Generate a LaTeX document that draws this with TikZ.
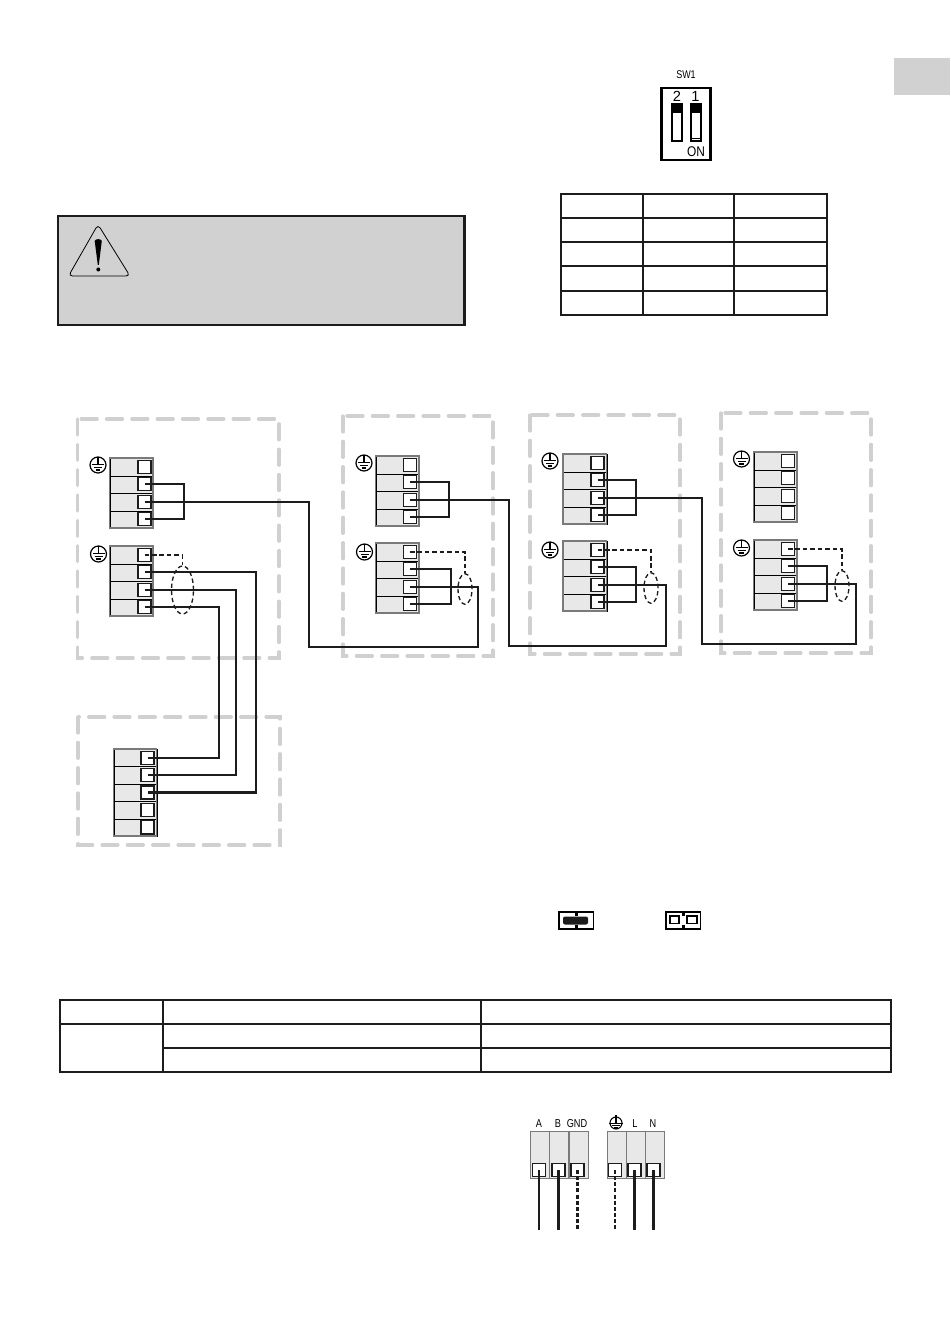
\documentclass[tikz,border=0pt]{standalone}
\usepackage{fontspec}
\setmainfont{Liberation Sans}
\usetikzlibrary{shapes.geometric}
\definecolor{panelgrey}{HTML}{D1D1D1}
\definecolor{rowgrey}{HTML}{E8E8E8}
\definecolor{blockedge}{HTML}{7A7A7A}
\definecolor{framegrey}{HTML}{D0D0D0}
\definecolor{wireblack}{HTML}{1C1C1C}
\tikzset{
  px/.style={x=0.75pt,y=-0.75pt},
  frame/.style={draw=framegrey,line width=2.4pt,dash pattern=on 12pt off 7pt,line cap=round},
  wire/.style={draw=wireblack,line width=1.6pt},
  dwire/.style={draw=wireblack,line width=1.2pt,dash pattern=on 3.4pt off 2.2pt},
  bwire/.style={draw=wireblack,line width=1.6pt},
  bdwire/.style={draw=wireblack,line width=1.6pt,dash pattern=on 3pt off 1.6pt},
  rowcell/.style={rectangle,fill=rowgrey,draw=black,line width=0.7pt,anchor=north west,inner sep=0pt},
  termsq/.style={rectangle,draw=wireblack,fill=white,line width=1pt,minimum size=9.8pt,inner sep=0pt},
  cable/.style={ellipse,draw=wireblack,line width=1pt,dash pattern=on 3.2pt off 2.2pt,inner sep=0pt},
  tablegrid/.style={draw=wireblack,line width=1.4pt},
  lab/.style={inner sep=0pt,font=\fontsize{8.6}{9}\selectfont},
  earthpic/.pic={
    \draw[line width=0.9pt,fill=white] (0,0) circle[radius=8];
    \draw[line width=0.8pt] (0,-8) -- (0,-0.5);
    \draw[line width=0.8pt] (-6,-0.5) -- (6,-0.5) (-4,2.3) -- (4,2.3) (-2.2,5) -- (2.2,5);
  },
  smallearth/.pic={
    \draw[line width=0.8pt] (0,0) circle[radius=6];
    \draw[line width=0.8pt] (0,-8) -- (0,0.5);
    \draw[line width=0.8pt] (-7,0.5) -- (7,0.5) (-4,2.8) -- (4,2.8) (-2,5) -- (2,5);
  }
}
% name, left, top, width, row height, rows, square centre x
\newcommand{\tblock}[7]{%
  \foreach \r in {1,...,#6}{%
    \pgfmathsetmacro{\ry}{#3+(\r-1)*#5}%
    \pgfmathsetmacro{\rc}{#3+(\r-0.5)*#5}%
    \node[rowcell,minimum width=#4*0.75pt,minimum height=#5*0.75pt] (#1-r\r) at (#2,\ry) {};%
    \node[termsq] (#1-\r) at (#7,\rc) {};%
  }%
  \pgfmathsetmacro{\rb}{#3+#6*#5}%
  \pgfmathsetmacro{\rr}{#2+#4}%
  \draw[blockedge,line width=1pt] (#2,#3) rectangle (\rr,\rb);%
}
% left, right, mid: outline of a two-bay jumper with a notched waist
\newcommand{\jumper}[1]{%
  \draw[black,line width=0.9pt,shift={(#1,0)}] (0,912) -- (16.5,912) -- (16.5,915) -- (18,915) -- (18,912) -- (34.5,912) -- (34.5,929) -- (18,929) -- (18,926) -- (16.5,926) -- (16.5,929) -- (0,929) -- cycle;%
}
\begin{document}
\begin{tikzpicture}[px]
\useasboundingbox (0,0) rectangle (950,1344);
% side tab
\fill[panelgrey] (894,58) rectangle (950,95);
% DIP switch
\node[lab,font=\fontsize{8.4}{9}\selectfont] (swlab) at (686,75) {\scalebox{0.8}[1]{SW1}};
\node[rectangle,draw=black,line width=2.2pt,minimum width=36.5pt,minimum height=54pt,inner sep=0pt] (swbody) at (686,124) {};
\node[lab,font=\fontsize{11}{12}\selectfont] (sw2) at (677,96) {2};
\node[lab,font=\fontsize{11}{12}\selectfont] (sw1) at (695.5,96) {1};
\node[lab,font=\fontsize{10.5}{11}\selectfont] (swon) at (696,151.5) {\scalebox{0.85}[1]{ON}};
\draw[black,line width=0.9pt] (672,104) rectangle (682,141);
\fill[black] (672,104) rectangle (682,113);
\draw[black,line width=0.9pt] (691,104) rectangle (701,141);
\fill[black] (691,104) rectangle (701,113);
\draw[black,line width=0.6pt] (692,138.5) -- (700,138.5);
% table top right
\draw[tablegrid] (561,194) rectangle (827,315);
\draw[tablegrid] (643,194) -- (643,315) (734,194) -- (734,315);
\draw[tablegrid] (561,218) -- (827,218) (561,242) -- (827,242) (561,266) -- (827,266) (561,291) -- (827,291);
% warning box
\draw[draw=wireblack,line width=1.7pt,fill=panelgrey] (58,216) rectangle (464.5,325);
\draw[black,line width=0.6pt,rounded corners=3pt] (98,224.5) -- (130,276) -- (68.5,276) -- cycle;
\fill[black] (94.7,241) .. controls (95,238.5) and (101.5,238.5) .. (101.8,241) -- (98.8,265) -- (97.8,265) -- cycle;
\fill[black] (98.3,269.5) circle[radius=2];
% dashed frames
\draw[frame] (77.5,419) rectangle (279,658);
\draw[frame] (78,717) rectangle (280,845);
\draw[frame] (343,416) rectangle (493,656);
\draw[frame] (530,415) rectangle (680,654);
\draw[frame] (721,413) rectangle (871,653);
% terminal blocks
\tblock{a}{109.5}{458}{43.5}{17.5}{4}{144.5}
\tblock{p}{109.5}{546}{43.5}{17.5}{4}{144.5}
\tblock{q}{113.5}{749}{43}{17.4}{5}{147.5}
\tblock{b}{375.5}{456}{43.5}{17.5}{4}{410}
\tblock{r}{375.5}{543}{43.5}{17.5}{4}{410}
\tblock{c}{563}{454}{43.5}{17.5}{4}{597.5}
\tblock{s}{563}{541}{43.5}{17.5}{4}{597.5}
\tblock{d}{753.5}{452}{43.5}{17.5}{4}{788}
\tblock{t}{753.5}{540}{43.5}{17.5}{4}{788}
% earth marks
\foreach \ex/\ey in {98/465,98.5/554,364/463,364.5/552,550/461,550/550,741.5/459,741.5/548}
  \pic at (\ex,\ey) {earthpic};
% cable ellipses
\node[cable,minimum width=16.5pt,minimum height=36pt] (ca) at (182.5,590) {};
\node[cable,minimum width=10.5pt,minimum height=23pt] (cb) at (465,589) {};
\node[cable,minimum width=10.5pt,minimum height=23pt] (cc) at (651,588) {};
\node[cable,minimum width=10.5pt,minimum height=23pt] (cd) at (842,586) {};
% routing points
\coordinate (ja) at (184,500);
\coordinate (jb) at (449,500);
\coordinate (jc) at (636,497);
\coordinate (jr) at (451,587);
\coordinate (js) at (636,585);
\coordinate (jt) at (827,583);
\coordinate (vr) at (256,700);
\coordinate (vm) at (236,700);
\coordinate (vl) at (219,700);
\coordinate (w1a) at (309,647);
\coordinate (w1b) at (478,647);
\coordinate (w2a) at (509,646);
\coordinate (w2b) at (666,646);
\coordinate (w3a) at (702,644);
\coordinate (w3b) at (856,644);
% wires
\draw[wire] (a-2.center) -| (ja) |- (a-4.center);
\draw[wire] (b-2.center) -| (jb) |- (b-4.center);
\draw[wire] (c-2.center) -| (jc) |- (c-4.center);
\draw[wire] (r-2.center) -| (jr) |- (r-4.center);
\draw[wire] (s-2.center) -| (js) |- (s-4.center);
\draw[wire] (t-2.center) -| (jt) |- (t-4.center);
\draw[wire] (p-2.center) -| (vr) |- (q-3.center);
\draw[wire] (p-3.center) -| (vm) |- (q-2.center);
\draw[wire] (p-4.center) -| (vl) |- (q-1.center);
\draw[wire] (a-3.center) -| (w1a) -- (w1b) |- (r-3.center);
\draw[wire] (b-3.center) -| (w2a) -- (w2b) |- (s-3.center);
\draw[wire] (c-3.center) -| (w3a) -- (w3b) |- (t-3.center);
\draw[dwire] (p-1.center) -| (ca.north);
\draw[dwire] (r-1.center) -| (cb.north);
\draw[dwire] (s-1.center) -| (cc.north);
\draw[dwire] (t-1.center) -| (cd.north);
% jumpers
\jumper{559}
\fill[wireblack,rounded corners=1.5pt] (563,916.5) rectangle (588,924.5);
\jumper{666}
\draw[black,line width=0.8pt] (670,916) rectangle (679,923.5) (687,916) rectangle (697,923.5);
% table bottom
\draw[tablegrid] (60,1000) rectangle (891,1072);
\draw[tablegrid] (163,1000) -- (163,1072) (481,1000) -- (481,1072);
\draw[tablegrid] (60,1024) -- (891,1024) (163,1048) -- (891,1048);
% bottom connectors
\foreach \nm/\lx/\cx in {u1/529.5/539,u2/549/558.5,u3/569/577.5,v1/606.5/615,v2/625.5/634.5,v3/645/653.5}{
  \node[rectangle,fill=rowgrey,draw=blockedge,line width=0.9pt,anchor=north west,inner sep=0pt,minimum width=14.4pt,minimum height=35.2pt] (\nm-body) at (\lx,1131) {};
  \node[termsq,minimum size=9.8pt] (\nm) at (\cx,1170) {};
}
\foreach \nm/\cx in {u1/539,u2/558.5,u3/577.5,v1/615,v2/634.5,v3/653.5}
  \coordinate (\nm-end) at (\cx,1230);
\draw[bwire] (u1.center) -- (u1-end);
\draw[bwire] (u2.center) -- (u2-end);
\draw[bdwire] (u3.center) -- (u3-end);
\draw[bdwire] (v1.center) -- (v1-end);
\draw[bwire] (v2.center) -- (v2-end);
\draw[bwire] (v3.center) -- (v3-end);
\node[lab] (la) at (539,1124) {\scalebox{0.8}[1]{A}};
\node[lab] (lb) at (558,1124) {\scalebox{0.8}[1]{B}};
\node[lab] (lg) at (577,1124) {\scalebox{0.8}[1]{GND}};
\node[lab] (ll) at (635,1124) {\scalebox{0.8}[1]{L}};
\node[lab] (ln) at (653,1124) {\scalebox{0.8}[1]{N}};
\pic at (616,1123) {smallearth};
\end{tikzpicture}
\end{document}
